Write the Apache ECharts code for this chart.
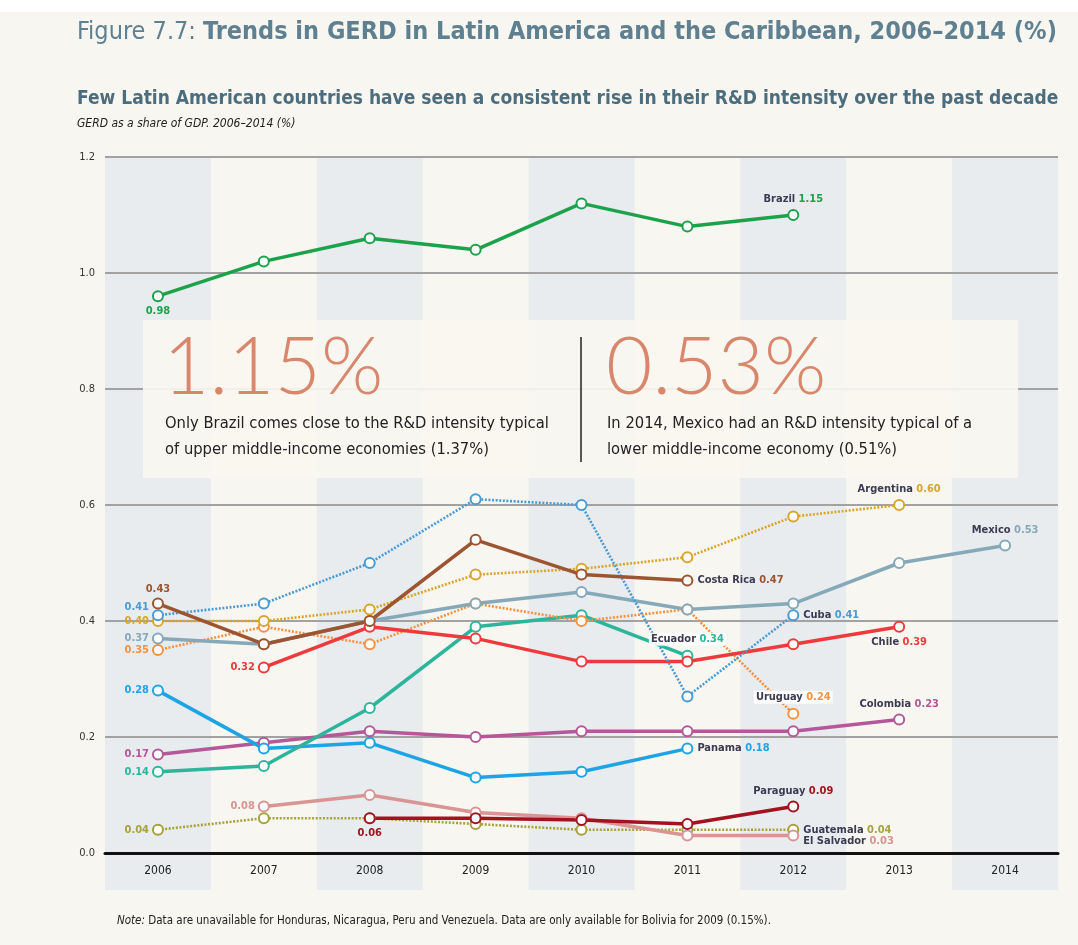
<!DOCTYPE html>
<html><head><meta charset="utf-8">
<script src="https://cdn.jsdelivr.net/npm/echarts@6/dist/echarts.min.js"></script>
<style>html,body{margin:0;padding:0;background:#fff}#c{width:1078px;height:945px}</style>
</head><body><div id="c"></div>
<script>
const years = ['2006','2007','2008','2009','2010','2011','2012','2013','2014'];
const yTicks = [0, 0.2, 0.4, 0.6, 0.8, 1.0, 1.2];
const brazil     = [0.96, 1.02, 1.06, 1.04, 1.12, 1.08, 1.10, null, null];
const costaRica  = [0.43, 0.36, 0.40, 0.54, 0.48, 0.47, null, null, null];
const cuba       = [0.41, 0.43, 0.50, 0.61, 0.60, 0.27, 0.41, null, null];
const argentina  = [0.40, 0.40, 0.42, 0.48, 0.49, 0.51, 0.58, 0.60, null];
const mexico     = [0.37, 0.36, 0.40, 0.43, 0.45, 0.42, 0.43, 0.50, 0.53];
const uruguay    = [0.35, 0.39, 0.36, 0.43, 0.40, 0.42, 0.24, null, null];
const chile      = [null, 0.32, 0.39, 0.37, 0.33, 0.33, 0.36, 0.39, null];
const ecuador    = [0.14, 0.15, 0.25, 0.39, 0.41, 0.34, null, null, null];
const panama     = [0.28, 0.18, 0.19, 0.13, 0.14, 0.18, null, null, null];
const colombia   = [0.17, 0.19, 0.21, 0.20, 0.21, 0.21, 0.21, 0.23, null];
const elSalvador = [null, 0.08, 0.10, 0.07, 0.06, 0.03, 0.03, null, null];
const paraguay   = [null, null, 0.06, 0.06, 0.057, 0.05, 0.08, null, null];
const guatemala  = [0.04, 0.06, 0.06, 0.05, 0.04, 0.04, 0.04, null, null];
// labelled values as printed on the figure
const startLabels = {Brazil:'0.98','Costa Rica':'0.43',Cuba:'0.41',Argentina:'0.40',Mexico:'0.37',Uruguay:'0.35',Chile:'0.32',Ecuador:'0.14',Panama:'0.28',Colombia:'0.17','El Salvador':'0.08',Paraguay:'0.06',Guatemala:'0.04'};
const endLabels = {Brazil:'1.15','Costa Rica':'0.47',Cuba:'0.41',Argentina:'0.60',Mexico:'0.53',Uruguay:'0.24',Chile:'0.39',Ecuador:'0.34',Panama:'0.18',Colombia:'0.23','El Salvador':'0.03',Paraguay:'0.09',Guatemala:'0.04'};

const FONT = "'DejaVu Sans Condensed','Liberation Sans Narrow',sans-serif";
const NAMECOL = '#3b3b52';

const spec = [
  {name:'Colombia', data:colombia, color:'#b5589a', dotted:false, sPos:'left', ePos:'top'},
  {name:'Panama', data:panama, color:'#1ea4e4', dotted:false, sPos:'left', ePos:'right'},
  {name:'Guatemala', data:guatemala, color:'#a6a23c', dotted:true, sPos:'left', ePos:'right'},
  {name:'El Salvador', data:elSalvador, color:'#d99494', dotted:false, sPos:'left', ePos:'right', eOff:[0,6]},
  {name:'Paraguay', data:paraguay, color:'#a3121f', dotted:false, sPos:'bottom', ePos:'top'},
  {name:'Ecuador', data:ecuador, color:'#2db59b', dotted:false, sPos:'left', ePos:'top', bg:true},
  {name:'Uruguay', data:uruguay, color:'#f39243', dotted:true, sPos:'left', ePos:'top', bg:true},
  {name:'Chile', data:chile, color:'#ee3a3c', dotted:false, sPos:'left', ePos:'bottom'},
  {name:'Mexico', data:mexico, color:'#86a9b9', dotted:false, sPos:'left', ePos:'top'},
  {name:'Argentina', data:argentina, color:'#d9a52a', dotted:true, sPos:'left', ePos:'top'},
  {name:'Cuba', data:cuba, color:'#4b9bd3', dotted:true, sPos:'left', ePos:'right', sOff:[0,-8]},
  {name:'Costa Rica', data:costaRica, color:'#9c5530', dotted:false, sPos:'top', ePos:'right'},
  {name:'Brazil', data:brazil, color:'#1ba24b', dotted:false, sPos:'bottom', ePos:'top'}
];

function buildSeries(s){
  let first = s.data.findIndex(v => v !== null);
  let last = s.data.length - 1; while (s.data[last] === null) last--;
  const data = s.data.map((v, i) => {
    if (v === null) return null;
    const item = {value: v};
    if (i === first) {
      item.label = {show:true, position:s.sPos, distance:3, offset:s.sOff || [0,0], formatter:'{v|' + startLabels[s.name] + '}'};
    } else if (i === last) {
      item.label = {show:true, position:s.ePos, distance:4, offset:s.eOff || [0,0],
        formatter:'{n|' + s.name + '} {v|' + endLabels[s.name] + '}',
        backgroundColor: s.bg ? 'rgba(255,255,255,0.9)' : 'transparent', padding: s.bg ? [1,2] : 0};
    }
    return item;
  });
  return {
    type:'line', name:s.name, data:data, connectNulls:false, xAxisIndex:0, yAxisIndex:0,
    symbol:'circle', symbolSize:10, showAllSymbol:true,
    lineStyle:{color:s.color, width: s.dotted ? 2.6 : 3.5, type: s.dotted ? [2,1.6] : 'solid'},
    itemStyle:{color:'#ffffff', borderColor:s.color, borderWidth:2},
    label:{fontFamily:FONT, fontWeight:'bold', fontSize:11,
      rich:{n:{color:NAMECOL, fontFamily:FONT, fontWeight:'bold', fontSize:11},
            v:{color:s.color, fontFamily:FONT, fontWeight:'bold', fontSize:11}}},
    emphasis:{disabled:true}, animation:false, z:3
  };
}

const chart = echarts.init(document.getElementById('c'), null, {renderer:'canvas'});
const BAND = ['#e8ecef','rgba(0,0,0,0)'];
const TXT = '#222';
chart.setOption({
  backgroundColor:'#f8f6f0',
  animation:false,
  grid:[{left:105, right:20, top:157, bottom:92},
        {left:105, right:20, top:853, height:37}],
  xAxis:[{type:'category', data:years, gridIndex:0, boundaryGap:true, z:2, position:'bottom',
          axisLine:{show:true, lineStyle:{color:'#111', width:3}},
          axisTick:{show:false},
          axisLabel:{margin:12, fontFamily:FONT, fontSize:12, color:TXT},
          splitArea:{show:false}},
         {type:'category', data:years, gridIndex:1, boundaryGap:true, z:0,
          axisLine:{show:false}, axisTick:{show:false}, axisLabel:{show:false},
          splitArea:{show:true, areaStyle:{color:BAND}}},
         {type:'category', data:years, gridIndex:0, boundaryGap:true, z:0, position:'top',
          axisLine:{show:false}, axisTick:{show:false}, axisLabel:{show:false},
          splitArea:{show:true, areaStyle:{color:BAND}}}],
  yAxis:[{type:'value', min:yTicks[0], max:yTicks[yTicks.length-1], interval:0.2, gridIndex:0, z:1,
          axisLine:{show:false}, axisTick:{show:false},
          axisLabel:{margin:10, fontFamily:FONT, fontSize:11, color:'#333', formatter:v => v.toFixed(1)},
          splitLine:{lineStyle:{color:'#a2a2a2', width:2}}},
         {type:'value', gridIndex:1, show:false, splitLine:{show:false}}],
  series: spec.map(buildSeries),
  graphic:[
    {type:'rect', left:0, top:0, shape:{width:1078, height:12}, style:{fill:'#ffffff'}, silent:true},
    {type:'text', left:77, top:20, style:{
      text:'{a|Figure 7.7: }{b|Trends in GERD in Latin America and the Caribbean, 2006–2014 (%)}',
      rich:{a:{fontFamily:FONT, fontSize:25, fill:'#5e8090'},
            b:{fontFamily:FONT, fontSize:25, fontWeight:'bold', fill:'#5e8090'}}}},
    {type:'text', left:77, top:90, style:{text:'Few Latin American countries have seen a consistent rise in their R&D intensity over the past decade',
      fontFamily:FONT, fontSize:19, fontWeight:'bold', fill:'#4c6d7e'}},
    {type:'text', left:77, top:118, style:{text:'GERD as a share of GDP. 2006–2014 (%)',
      fontFamily:FONT, fontSize:12, fontStyle:'italic', fill:TXT}},
    {type:'rect', left:143, top:320, z:5, shape:{width:875, height:158}, style:{fill:'rgba(249,247,241,0.9)'}, silent:true},
    {type:'text', left:163, top:328, z:6, style:{text:'1.15%', fontFamily:'Lato', fontWeight:300, fontSize:80, fill:'#d9876c'}},
    {type:'text', left:606, top:328, z:6, style:{text:'0.53%', fontFamily:'Lato', fontWeight:300, fontSize:80, fill:'#d9876c'}},
    {type:'text', left:165, top:411, z:6, style:{text:'Only Brazil comes close to the R&D intensity typical\nof upper middle-income economies (1.37%)',
      fontFamily:FONT, fontSize:16.4, lineHeight:26, fill:TXT}},
    {type:'text', left:607, top:411, z:6, style:{text:'In 2014, Mexico had an R&D intensity typical of a\nlower middle-income economy (0.51%)',
      fontFamily:FONT, fontSize:16.4, lineHeight:26, fill:TXT}},
    {type:'line', z:6, shape:{x1:581, y1:337, x2:581, y2:462}, style:{stroke:'#222', lineWidth:1.5}},
    {type:'text', left:117, top:915, style:{
      text:'{a|Note:} {b|Data are unavailable for Honduras, Nicaragua, Peru and Venezuela. Data are only available for Bolivia for 2009 (0.15%).}',
      rich:{a:{fontFamily:FONT, fontSize:11.5, fontStyle:'italic', fill:TXT},
            b:{fontFamily:FONT, fontSize:11.5, fill:TXT}}}}
  ]
});
</script></body></html>
